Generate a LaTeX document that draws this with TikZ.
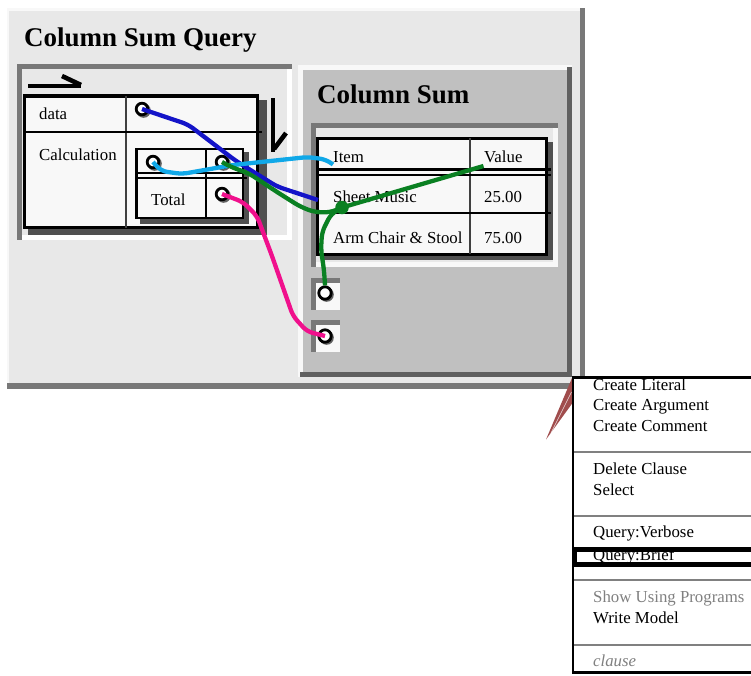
\documentclass[tikz,border=0pt]{standalone}
\usepackage{fontspec}
\setmainfont{Liberation Serif}
\usetikzlibrary{calc}

\definecolor{panelgray}{HTML}{E8E8E8}
\definecolor{innergray}{HTML}{C0C0C0}
\definecolor{edgegray}{HTML}{787878}
\definecolor{darkedge}{HTML}{606060}
\definecolor{cellfill}{HTML}{F8F8F8}
\definecolor{tabshade}{HTML}{505050}
\definecolor{rulegray}{HTML}{404040}
\definecolor{wireblue}{HTML}{1414C8}
\definecolor{wirecyan}{HTML}{10A8E8}
\definecolor{wiregreen}{HTML}{0A8022}
\definecolor{wirepink}{HTML}{F0108C}
\definecolor{menugray}{HTML}{808080}
\definecolor{pointer}{HTML}{A04C4C}

\tikzset{
  headtext/.style={anchor=base west, inner sep=0pt, font=\fontsize{27}{31}\selectfont\bfseries},
  celltext/.style={anchor=base west, inner sep=0pt, font=\fontsize{16.8}{20}\selectfont},
  menutext/.style={celltext},
  port/.style={circle, draw=black, line width=2.8pt, fill=white, minimum size=11.6pt, inner sep=0pt},
  bigport/.style={port, minimum size=12.4pt},
  wire/.style={line width=4.3pt, rounded corners=6pt, line join=round},
  harpoon/.style={line width=4.6pt},
  pshade/.style={fill=black!62},
}

% a port circle with its offset shadow; #3 is "x,y"
\newcommand\portnode[3][port]{%
  \fill[pshade] ([shift={(1.6,1.6)}]#3) circle (7.2);
  \node[#1] (#2) at (#3) {};}

\begin{document}
\begin{tikzpicture}[x=1pt,y=-1pt]
\useasboundingbox (0,0) rectangle (751,675);

% ---- outer window: Column Sum Query ----
\fill[cellfill] (7,8) rectangle (585,389);
\fill[panelgray] (9,11) rectangle (580,383);
\fill[edgegray] (580,8) rectangle (585,389);
\fill[edgegray] (7,383) rectangle (585,389);
\node[headtext] (qtitle) at (24,46) {Column Sum Query};

% sunken frame holding the query table
\fill[white] (17,64) rectangle (292,240);
\fill[panelgray] (22,69) rectangle (287,235);
\fill[edgegray] (17,64) rectangle (292,69);
\fill[edgegray] (17,64) rectangle (22,240);

% direction harpoons
\draw[harpoon] (28,86) -- (81,86);
\draw[harpoon] (62,76) -- (81,85);
\draw[harpoon] (273,98) -- (273,152);
\draw[harpoon] (286,133) -- (274,149);

% data / Calculation table
\fill[tabshade] (28,100) rectangle (267,235);
\filldraw[fill=cellfill, draw=black, line width=3.4pt] (24.5,96) rectangle (257.5,227.5);
\draw[rulegray, line width=2pt] (125.5,96) -- (125.5,227.5);
\draw[line width=2.4pt] (23,132) -- (262,132);
\node[celltext] (tdata) at (39,119.5) {data};
\node[celltext] (tcalc) at (39,160) {Calculation};

% nested Total table
\fill[tabshade] (140,152) rectangle (249,223.5);
\filldraw[fill=cellfill, draw=black, line width=2.6pt] (136.2,148.8) rectangle (242.8,217.8);
\draw[line width=2pt] (205.5,148.8) -- (205.5,217.8);
\draw[line width=2.2pt] (135,173) -- (246.5,173);
\draw[line width=2.2pt] (135,177.8) -- (246.5,177.8);
\node[celltext] (ttotal) at (151,205) {Total};

% ---- inner window: Column Sum ----
\fill[cellfill] (298,65) rectangle (572,377);
\fill[innergray] (303,70) rectangle (567,372);
\fill[darkedge] (567,67) rectangle (572,377);
\fill[darkedge] (300,372) rectangle (572,377);
\node[headtext] (stitle) at (317,103) {Column Sum};

% sunken frame holding the item table
\fill[cellfill] (311,123) rectangle (558,267);
\fill[panelgray] (316,128) rectangle (553,262);
\fill[edgegray] (311,123) rectangle (558,128);
\fill[edgegray] (311,123) rectangle (316,267);

% Item / Value table
\fill[tabshade] (322,142) rectangle (553,260);
\filldraw[fill=cellfill, draw=black, line width=3.2pt] (317.5,138.3) rectangle (546.5,254.3);
\draw[rulegray, line width=2pt] (470,138.3) -- (470,254.3);
\draw[line width=2.4pt] (317,169.5) -- (550.5,169.5);
\draw[line width=2.2pt] (317,175.3) -- (550.5,175.3);
\draw[line width=2.2pt] (317,212.7) -- (550.5,212.7);
\node[celltext] (titem)  at (333,162.5) {Item};
\node[celltext] (tvalue) at (484,162.5) {Value};
\node[celltext] (tsheet) at (333,202.5) {Sheet Music};
\node[celltext] (tv1)    at (484,202.5) {25.00};
\node[celltext] (tarm)   at (333,243.3) {Arm Chair \& Stool};
\node[celltext] (tv2)    at (484,243.3) {75.00};

% output port boxes
\fill[edgegray] (311,277.5) rectangle (340,309.5);
\fill[cellfill] (316,282.5) rectangle (340,309.5);
\fill[edgegray] (311,320) rectangle (340,352);
\fill[cellfill] (316,325) rectangle (340,352);

% ---- ports ----
\portnode{pdata}{142,109}
\portnode{pleft}{153,162}
\portnode{pright}{222,162}
\portnode{ptotal}{222,194}
\portnode[bigport]{pout1}{325,293}
\portnode[bigport]{pout2}{325,336}

% ---- wires ----
\coordinate (esheet) at (318,200);
\coordinate (eitem) at (333,164.5);
\coordinate (evalue) at (483.5,166);

\draw[wire, wireblue] (pdata.center) -- (188,124.5) -- (236,161) -- (277,186.5) -- (esheet);
\draw[wire, wirecyan] (pleft.center) -- (161,171) -- (182,174) -- (233,165) -- (308,157) -- (326,159.5) -- (eitem);

\node[circle, fill=wiregreen, minimum size=13.5pt, inner sep=0pt] (jdot) at (342,207.5) {};
\draw[wire, wiregreen] (pright.center) -- (230,166.5) -- (250,174) -- (277,192) -- (300,206.5) -- (314,212) -- (330,212.5) -- (jdot.center);
\draw[wire, wiregreen] (jdot.center) -- (evalue);
\draw[wire, wiregreen] (jdot.center) -- (331,214) -- (322,232) -- (321,250) -- (324,270) -- (pout1.north);

\draw[wire, wirepink] (ptotal.center) -- (243,202) -- (257,216) -- (272,256) -- (293,316) -- (307,331.5) -- (pout2.center);

% ---- pop-up menu ----
\fill[pointer] (546,439.5) -- (572,378) -- (572.5,403) -- cycle;
\draw[white, line width=0.6pt, opacity=0.8] (551,433) -- (571.5,392);

\fill[white] (573,377) rectangle (751,673);
\draw[line width=2.7pt] (752,377.2) -- (573,377.2) -- (573,672.8) -- (752,672.8);
\draw[menugray, line width=2pt] (574.4,452.2) -- (752,452.2);
\draw[menugray, line width=2pt] (574.4,516) -- (752,516);
\draw[menugray, line width=2pt] (574.4,580.3) -- (752,580.3);
\draw[menugray, line width=2pt] (574.4,645.3) -- (752,645.3);

\node[menutext] (mlit)  at (593,390) {Create Literal};
\node[menutext] (marg)  at (593,410.8) {Create Argument};
\node[menutext] (mcom)  at (593,431.5) {Create Comment};
\node[menutext] (mdel)  at (593,474.3) {Delete Clause};
\node[menutext] (msel)  at (593,495) {Select};
\node[menutext] (mverb) at (593,537.7) {Query:Verbose};
\node[menutext] (mbrief) at (593,560) {Query:Brief};
\node[menutext, text=menugray] (mshow) at (593,602.3) {Show Using Programs};
\node[menutext] (mwrite) at (593,623.3) {Write Model};
\node[menutext, text=menugray, font=\fontsize{16.8}{20}\selectfont\itshape] (mclause) at (593,666.7) {clause};

% highlight frame over Query:Brief
\fill (571.7,546.7) rectangle (752,551.7);
\fill (571.7,562.3) rectangle (752,566.9);
\fill (571.7,546.7) rectangle (577,566.9);
\end{tikzpicture}
\end{document}
